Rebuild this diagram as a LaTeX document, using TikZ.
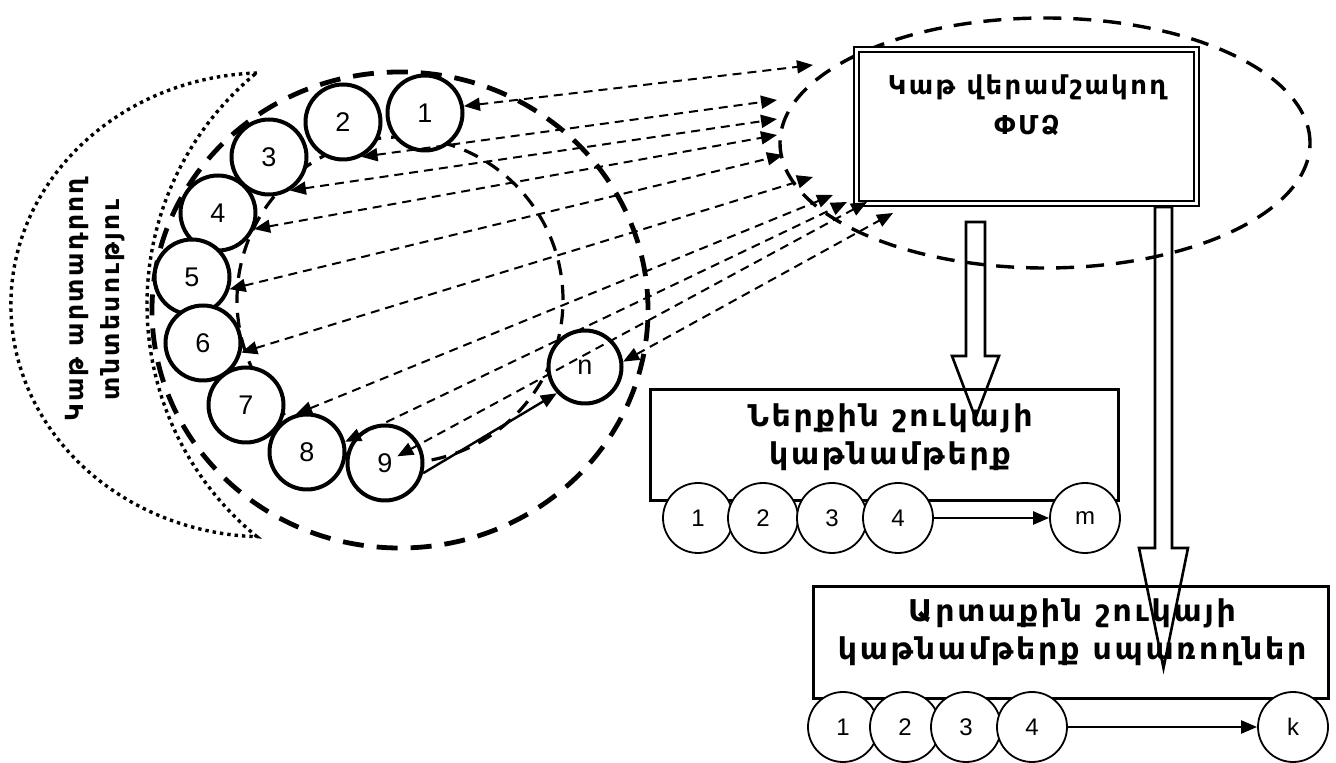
\documentclass[tikz,border=0pt]{standalone}
\usepackage{fontspec}
\setmainfont{Liberation Sans}
\newfontfamily\armfont{DejaVu Sans}[LetterSpace=9]
\usetikzlibrary{arrows.meta}

\begin{document}
\begin{tikzpicture}[x=1pt, y=1pt,
		>={Triangle[length=16pt, width=13pt]},
		ring/.style={circle, draw, line width=4pt, fill=white,
			minimum size=75pt, inner sep=0pt, font=\fontsize{27}{27}\selectfont},
		cell/.style={circle, draw, line width=1.8pt, fill=white,
			minimum size=70pt, inner sep=0pt, font=\fontsize{24}{24}\selectfont},
		link/.style={<->, line width=2pt, dash pattern=on 9pt off 6pt},
		box/.style={draw, line width=3.4pt, fill=white},
		title/.style={align=center, font=\armfont\bfseries\fontsize{30}{38}\selectfont},
		hollow/.style={line width=2.6pt, line join=miter}]
	\useasboundingbox (0,0) rectangle (1336,763);

	% waiting queue
	\draw[line width=3.4pt, dash pattern=on 3.4pt off 4pt]
		(257,690) arc[start angle=92, end angle=268, x radius=255, y radius=232]
		arc[start angle=230.7, end angle=129.3, radius=300] -- cycle;
	\node[rotate=90, align=center,
		font=\armfont\bfseries\fontsize{25}{36}\selectfont] (farm)
		at (95,463) {Կաթ արտադրող\\տնտեսությու};

	\draw[line width=4.8pt, dash pattern=on 21pt off 13pt]
		(400,453) ellipse[x radius=248, y radius=238];
	\draw[line width=3.2pt, dash pattern=on 15pt off 10pt]
		(400,463) circle[radius=163];
	\draw[line width=3.4pt, dash pattern=on 18pt off 12pt]
		(1045,620) ellipse[x radius=265, y radius=125];

	\path (425,650) node (c1) [ring] {1};
	\path (343,641) node (c2) [ring] {2};
	\path (269,606) node (c3) [ring] {3};
	\path (218,550) node (c4) [ring] {4};
	\path (192,486) node (c5) [ring] {5};
	\path (203,420) node (c6) [ring] {6};
	\path (246,358) node (c7) [ring] {7};
	\path (307,311) node (c8) [ring] {8};
	\path (385,300) node (c9) [ring] {9};
	\path (585,396) node (cn) [ring, minimum size=73pt] {n};

	% plant
	\path (1026.5,636.5) node (fsm)
		[box, double, line width=2.4pt, double distance=3pt,
			minimum width=340pt, minimum height=154pt] {};
	\path (1027,658) node (fsmtext) [title, font=\armfont\bfseries\fontsize{26}{40}\selectfont]
		{Կաթ վերամշակող\\ՓՄՁ};

	% inner market
	\path (884.5,318) node (inner)
		[box, minimum width=468pt, minimum height=111pt] {};
	\path (890,326) node (innertext) [title] {Ներքին շուկայի\\կաթնամթերք};
	\path (698,245) node (p1) [cell] {1};
	\path (763,245) node (p2) [cell] {2};
	\path (832,245) node (p3) [cell] {3};
	\path (898,245) node (p4) [cell] {4};
	\path (1085,245) node (pm) [cell] {m};
	\draw[line width=2.4pt, ->] (p4) -- (pm);

	% outer market
	\path (1071,120.5) node (outer)
		[box, minimum width=515pt, minimum height=112pt] {};
	\path (1072,131) node (outertext) [title] {Արտաքին շուկայի\\կաթնամթերք սպառողներ};
	\path (843,36) node (q1) [cell] {1};
	\path (905,36) node (q2) [cell] {2};
	\path (966,36) node (q3) [cell] {3};
	\path (1032,36) node (q4) [cell] {4};
	\path (1293,36) node (qk) [cell] {k};
	\draw[line width=2.4pt, ->] (q4) -- (qk);

	% ends at the plant
	\coordinate (r0) at (813,698);
	\coordinate (r1) at (777,663);
	\coordinate (r2) at (777,644);
	\coordinate (r3) at (777,628);
	\coordinate (r4) at (783,608);
	\coordinate (r5) at (813,586);
	\coordinate (r6) at (833,568);
	\coordinate (r7) at (847,561);
	\coordinate (r8) at (867,561);
	\coordinate (r9) at (893,550);

	\draw[link] (c1.10) -- (r0);
	\draw[link] (c2.-62) -- (r1);
	\draw[link] (c3.-58) -- (r2);
	\draw[link] (c4.-24) -- (r3);
	\draw[link] (c5.-18) -- (r4);
	\draw[link] (c6.-14) -- (r5);
	\draw[link] (c8.106) -- (r6);
	\draw[link] (c8.15) -- (r7);
	\draw[link, shorten <=14pt] (c9.center) -- (r8);
	\draw[link] (cn.8) -- (r9);
	\draw[line width=2.4pt, ->] (c9.-15) -- (cn.223);

	% flows to the markets
	\draw[hollow] (966,541) -- (966,407) -- (952,407) -- (975.5,345)
		-- (999,407) -- (985,407) -- (985,541) -- cycle;
	\draw[hollow] (1155,556) -- (1155,215) -- (1139,215) -- (1163.5,95)
		-- (1188,215) -- (1172,215) -- (1172,556) -- cycle;
\end{tikzpicture}
\end{document}
